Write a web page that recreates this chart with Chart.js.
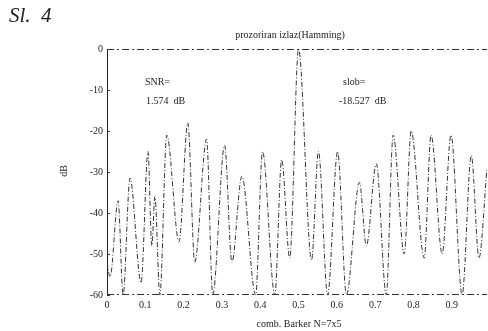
<!DOCTYPE html>
<html>
<head>
<meta charset="utf-8">
<script src="https://cdn.jsdelivr.net/npm/chart.js@4"></script>
<style>
  html, body { margin: 0; padding: 0; background: #fff; }
  #wrap { width: 488px; height: 331px; position: relative; }
</style>
</head>
<body>
<div id="wrap"><canvas id="myChart" width="488" height="331"></canvas></div>
<script>
// frequency (normalised) and level in dB
const freq = [0, 0.008, 0.029, 0.042, 0.060, 0.089, 0.107, 0.117, 0.125, 0.138,
  0.156, 0.188, 0.211, 0.229, 0.260, 0.276, 0.307, 0.326, 0.352, 0.388,
  0.406, 0.438, 0.456, 0.477, 0.500, 0.534, 0.552, 0.576, 0.602, 0.625,
  0.659, 0.677, 0.703, 0.729, 0.747, 0.776, 0.794, 0.828, 0.846, 0.875,
  0.898, 0.927, 0.951, 0.971, 0.992];
const levelDb = [-52, -55.6, -37, -60, -31.5, -57, -25, -48, -36, -60,
  -21, -47, -18, -52, -22, -60, -23.5, -52, -31, -60,
  -25, -60, -27, -51, 0, -51.5, -25, -60, -25, -60,
  -32.5, -48, -28, -60, -21, -50, -20, -51, -21, -50,
  -21, -60, -26, -51, -29];
const xTicks = [0, 0.1, 0.2, 0.3, 0.4, 0.5, 0.6, 0.7, 0.8, 0.9];
const yTicks = [0, -10, -20, -30, -40, -50, -60];

const serif = '"Liberation Serif", "DejaVu Serif", serif';

// texts that sit on the page, not on the scales
const labelsPlugin = {
  id: 'pageText',
  afterDraw(chart) {
    const ctx = chart.ctx;
    ctx.save();
    ctx.fillStyle = '#222';
    ctx.textBaseline = 'middle';
    ctx.font = 'italic 21px ' + serif;
    ctx.textAlign = 'left';
    ctx.fillText('Sl.  4', 9, 16);

    ctx.font = '10px ' + serif;
    ctx.textAlign = 'center';
    ctx.fillText('prozoriran izlaz(Hamming)', 290, 35);
    ctx.fillText('comb. Barker N=7x5', 299, 324);

    ctx.textAlign = 'left';
    ctx.fillText('SNR=', 145, 82);
    ctx.fillText('1.574  dB', 146, 101);
    ctx.fillText('slob=', 343, 82);
    ctx.fillText('-18.527  dB', 339, 101);

    ctx.translate(64, 171);
    ctx.rotate(-Math.PI / 2);
    ctx.textAlign = 'center';
    ctx.fillText('dB', 0, 0);
    ctx.restore();

    // dashed frame lines and small inward ticks on the left axis
    const a = chart.chartArea;
    const yScale = chart.scales.y;
    ctx.save();
    ctx.strokeStyle = '#333';
    ctx.lineWidth = 1;
    ctx.setLineDash([7, 3, 2, 3]);
    ctx.beginPath();
    ctx.moveTo(a.left, a.top + 0.5);
    ctx.lineTo(a.right, a.top + 0.5);
    ctx.moveTo(a.left, a.bottom - 0.5);
    ctx.lineTo(a.right, a.bottom - 0.5);
    ctx.stroke();
    ctx.setLineDash([]);
    ctx.beginPath();
    yTicks.forEach(v => {
      const py = Math.round(yScale.getPixelForValue(v)) + 0.5;
      ctx.moveTo(a.left, py);
      ctx.lineTo(a.left + 3, py);
    });
    ctx.stroke();
    ctx.restore();
  }
};

new Chart(document.getElementById('myChart').getContext('2d'), {
  type: 'line',
  data: {
    datasets: [{
      data: freq.map((f, i) => ({ x: f, y: levelDb[i] })),
      borderColor: '#333',
      borderWidth: 1,
      borderDash: [5, 2, 1, 2],
      pointRadius: 0,
      cubicInterpolationMode: 'monotone',
      fill: false
    }]
  },
  options: {
    responsive: false,
    animation: false,
    layout: { padding: { left: 0, top: 49, right: 1, bottom: 0 } },
    plugins: { legend: { display: false }, tooltip: { enabled: false } },
    scales: {
      x: {
        type: 'linear',
        min: 0,
        max: 0.992,
        afterBuildTicks: (axis) => { axis.ticks = xTicks.map(v => ({ value: v })); },
        afterFit: (axis) => { axis.height = 36; },
        grid: { display: false, drawTicks: false },
        border: { display: false },
        ticks: {
          color: '#222',
          font: { family: serif, size: 10 },
          padding: 4,
          maxRotation: 0,
          callback: (v) => v === 0 ? '0' : v.toFixed(1)
        }
      },
      y: {
        min: -60,
        max: 0,
        afterBuildTicks: (axis) => { axis.ticks = yTicks.map(v => ({ value: v })); },
        afterFit: (axis) => { axis.width = 107; },
        grid: { display: false, drawTicks: false },
        border: { display: true, color: '#222', width: 1, dash: [9, 2, 2, 2] },
        ticks: {
          color: '#222',
          font: { family: serif, size: 10 },
          padding: 4,
          callback: (v) => String(v)
        }
      }
    }
  },
  plugins: [labelsPlugin]
});
</script>
</body>
</html>
